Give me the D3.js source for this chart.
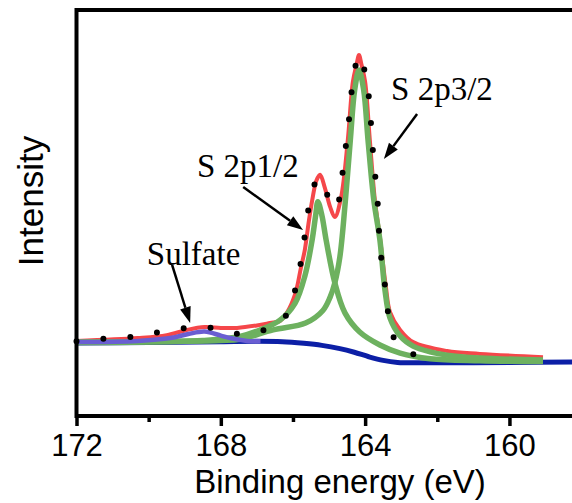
<!DOCTYPE html>
<html>
<head>
<meta charset="utf-8">
<script src="https://cdn.jsdelivr.net/npm/d3@7/dist/d3.min.js"></script>
<style>
  html, body { margin: 0; padding: 0; background: #fff; }
  svg { display: block; }
</style>
</head>
<body>
<svg id="chart" width="572" height="503"></svg>
<script>
// S 2p XPS spectrum, binding energy (eV) vs intensity (a.u.)
const majorTicks = [172, 168, 164, 160];
const minorTicks = [170, 166, 162, 158];

// Shirley background
const background = [
  [172.0, 18.0], [170.0, 18.1], [168.0, 18.3], [167.0, 18.4], [166.3, 18.3],
  [165.7, 17.9], [165.2, 17.4], [164.7, 16.6], [164.3, 15.7], [163.9, 14.6],
  [163.5, 13.7], [163.1, 13.2], [162.5, 13.1], [160.0, 13.2], [158.0, 13.3]
];

// fitted envelope
const envelope = [
  [172.0, 18.5], [170.3, 19.2], [169.5, 19.9], [168.94, 21.2], [168.45, 21.9],
  [168.0, 21.7], [167.55, 21.7], [167.0, 22.3], [166.64, 22.9], [166.36, 23.4],
  [166.17, 25.4], [165.94, 30.0], [165.78, 36.5], [165.67, 41.0], [165.56, 48.0],
  [165.45, 54.0], [165.35, 58.0], [165.25, 59.4], [165.11, 56.0], [164.97, 51.5],
  [164.84, 49.0], [164.67, 53.7], [164.48, 68.0], [164.34, 82.3], [164.24, 86.5],
  [164.17, 88.9], [164.10, 86.5], [164.0, 82.3], [163.87, 68.0], [163.73, 53.2],
  [163.59, 44.0], [163.42, 31.5], [163.31, 25.6], [163.03, 21.2], [162.67, 18.2],
  [161.73, 16.0], [160.82, 15.3], [159.07, 14.5]
];

// S 2p3/2 component
const s2p32 = [
  [172.0, 18.2], [169.0, 18.4], [168.0, 18.6], [167.47, 18.9], [166.55, 21.2],
  [165.65, 22.9], [165.17, 26.0], [164.97, 29.3], [164.84, 32.8], [164.70, 39.2],
  [164.56, 51.7], [164.41, 68.0], [164.29, 80.3], [164.17, 85.2], [164.04, 80.3],
  [163.92, 68.0], [163.76, 53.2], [163.59, 43.3], [163.45, 31.0], [163.31, 24.1],
  [163.03, 19.7], [162.67, 17.2], [162.20, 15.8], [161.73, 15.0], [160.82, 14.3],
  [159.07, 13.8]
];

// S 2p1/2 component
const s2p12 = [
  [172.0, 18.1], [169.5, 18.3], [168.5, 18.6], [167.47, 19.6], [166.91, 21.2],
  [166.36, 23.6], [165.94, 27.8], [165.67, 34.5], [165.47, 43.3], [165.37, 49.5],
  [165.31, 52.8], [165.20, 49.5], [165.08, 43.3], [164.84, 32.8], [164.56, 25.4],
  [164.15, 20.7], [163.59, 17.5], [163.03, 15.5], [162.20, 14.1], [160.82, 13.6],
  [159.07, 13.4]
];

// sulfate component
const sulfate = [
  [172.0, 18.2], [170.3, 18.5], [169.4, 19.2], [168.9, 20.2], [168.45, 20.8],
  [168.0, 19.8], [167.75, 19.2], [167.27, 18.5], [166.9, 18.4]
];

// measured spectrum
const measured = [
  [172.0, 18.4], [171.27, 19.0], [170.46, 19.5], [169.74, 20.6], [168.94, 21.7],
  [168.22, 21.7], [167.47, 20.2], [166.80, 21.2], [166.22, 24.4], [165.94, 31.0],
  [165.78, 37.9], [165.67, 44.6], [165.56, 51.5], [165.42, 56.7], [165.28, 58.6],
  [165.14, 56.9], [165.00, 53.2], [164.84, 51.0], [164.67, 55.2], [164.61, 61.8],
  [164.50, 68.7], [164.42, 75.4], [164.34, 82.3], [164.17, 88.9], [163.95, 82.3],
  [163.87, 75.4], [163.81, 68.7], [163.76, 62.3], [163.67, 54.9], [163.59, 42.1],
  [163.50, 35.2], [163.39, 28.6], [163.31, 21.7], [162.98, 16.5], [162.26, 14.3]
];

// annotations: label, text anchor point, arrow start, arrow tip
const labels = [
  { text: 'S 2p3/2', at: [163.28, 77.8], from: [162.56, 74.4], to: [163.48, 63.3] },
  { text: 'S 2p1/2', at: [168.66, 58.9], from: [167.38, 56.4], to: [165.72, 45.8] },
  { text: 'Sulfate', at: [170.05, 37.2], from: [169.35, 37.2], to: [168.85, 22.9] }
];

const svg = d3.select('#chart');
const mLeft = 76.5, mRight = 581.6, mTop = 10, mBottom = 416;

const x = d3.scaleLinear().domain([172, 158]).range([mLeft, mRight]);
const y = d3.scaleLinear().domain([0, 100]).range([mBottom, mTop]);

const line = d3.line()
    .x(d => x(d[0]))
    .y(d => y(d[1]))
    .curve(d3.curveCatmullRom.alpha(0.5));

const plot = svg.append('g');

plot.append('path').datum(background)
    .attr('d', line).attr('fill', 'none')
    .attr('stroke', '#0c1fa6').attr('stroke-width', 5);

plot.append('path').datum(envelope)
    .attr('d', line).attr('fill', 'none')
    .attr('stroke', '#f5474a').attr('stroke-width', 4);

[s2p12, s2p32].forEach(s => {
    plot.append('path').datum(s)
        .attr('d', line).attr('fill', 'none')
        .attr('stroke', '#6db15f').attr('stroke-width', 5.5);
});

plot.append('path').datum(sulfate)
    .attr('d', line).attr('fill', 'none')
    .attr('stroke', '#6a5ed2').attr('stroke-width', 4.5);

plot.append('path').datum(measured)
    .attr('d', line).attr('fill', 'none')
    .attr('stroke', '#000').attr('stroke-width', 6)
    .attr('stroke-linecap', 'round')
    .attr('stroke-dasharray', '0 27');

// annotations
const notes = svg.append('g');
labels.forEach(l => {
    notes.append('text')
        .attr('x', x(l.at[0])).attr('y', y(l.at[1]))
        .style('font-family', '"Liberation Serif", "Times New Roman", serif')
        .style('font-size', '33px')
        .text(l.text);

    let x0 = x(l.from[0]), y0 = y(l.from[1]);
    let x1 = x(l.to[0]), y1 = y(l.to[1]);
    let a = Math.atan2(y1 - y0, x1 - x0);
    let len = 16, hw = 5.5;
    let bx = x1 - len * Math.cos(a), by = y1 - len * Math.sin(a);

    notes.append('line')
        .attr('x1', x0).attr('y1', y0).attr('x2', bx).attr('y2', by)
        .attr('stroke', '#000').attr('stroke-width', 2.5);

    notes.append('path')
        .attr('d', `M${x1},${y1}L${bx + hw * Math.sin(a)},${by - hw * Math.cos(a)}L${bx - hw * Math.sin(a)},${by + hw * Math.cos(a)}Z`)
        .attr('fill', '#000');
});

// frame
svg.append('rect')
    .attr('x', mLeft).attr('y', mTop)
    .attr('width', mRight - mLeft).attr('height', mBottom - mTop)
    .attr('fill', 'none').attr('stroke', '#000').attr('stroke-width', 4);

// x axis
let ax = svg.append('g')
    .attr('transform', `translate(0,${mBottom})`)
    .call(d3.axisBottom(x).tickValues(majorTicks).tickSize(10).tickPadding(8).tickFormat(d3.format('d')));
ax.select('.domain').remove();
ax.selectAll('line').attr('stroke-width', 3.5);
ax.selectAll('text')
    .style('font-family', '"Liberation Sans", Arial, sans-serif')
    .style('font-size', '31px')
    .attr('fill', '#000');

let axm = svg.append('g')
    .attr('transform', `translate(0,${mBottom})`)
    .call(d3.axisBottom(x).tickValues(minorTicks).tickSize(6).tickFormat(''));
axm.select('.domain').remove();
axm.selectAll('line').attr('stroke-width', 3.5);

svg.append('text')
    .attr('x', 340).attr('y', 493)
    .attr('text-anchor', 'middle')
    .style('font-family', '"Liberation Sans", Arial, sans-serif')
    .style('font-size', '33px')
    .text('Binding energy (eV)');

svg.append('text')
    .attr('transform', 'translate(43,201) rotate(-90)')
    .attr('text-anchor', 'middle')
    .style('font-family', '"Liberation Sans", Arial, sans-serif')
    .style('font-size', '35px')
    .text('Intensity');
</script>
</body>
</html>
